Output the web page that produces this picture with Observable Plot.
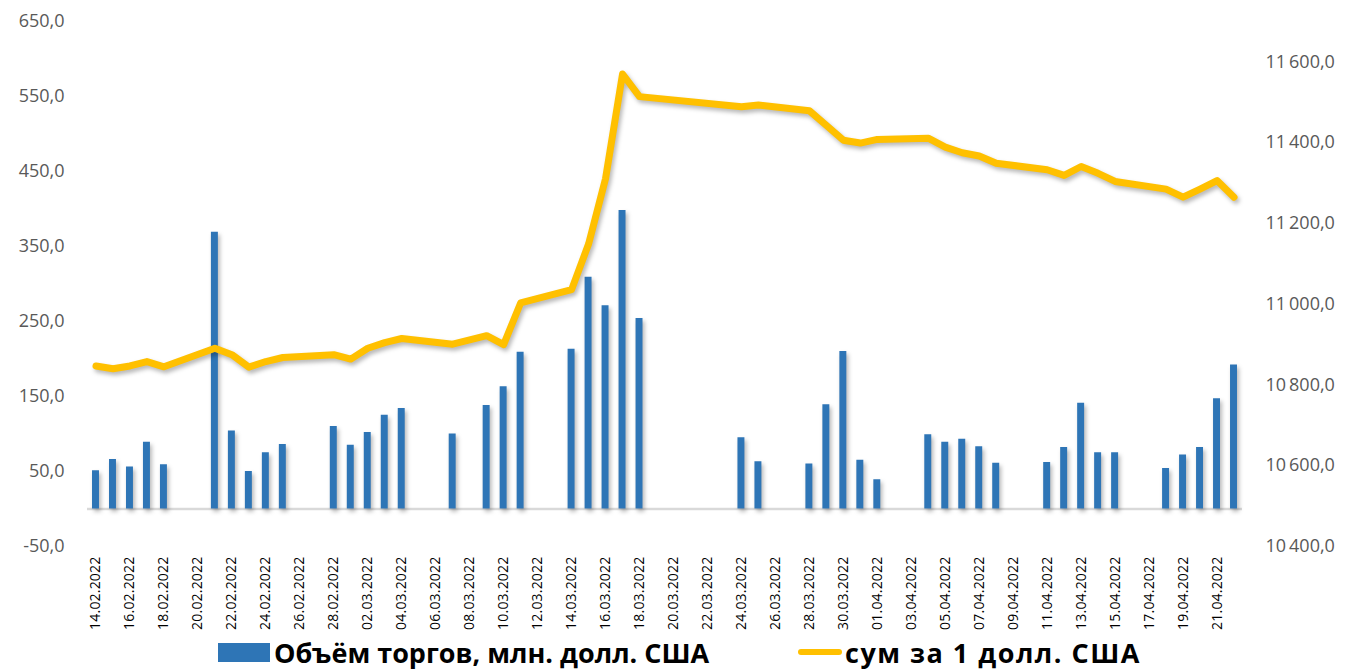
<!DOCTYPE html>
<html>
<head>
<meta charset="utf-8">
<script src="https://cdn.jsdelivr.net/npm/d3@7"></script>
<script src="https://cdn.jsdelivr.net/npm/@observablehq/plot@0.6"></script>
<style>
  html, body { margin: 0; padding: 0; background: #fff; overflow: hidden; }
  #wrap { width: 1347px; height: 669px; position: relative; }
  .shadow { filter: drop-shadow(2px 3px 2px rgba(0,0,0,0.28)); }
  g[aria-label="x-axis tick label"] text { letter-spacing: 0.2px; }
  #legend { position: relative; width: 1347px; height: 34px; font-family: "Open Sans", sans-serif; font-weight: 700; font-size: 27px; color: #000; }
  .item { position: absolute; top: 0; height: 34px; display: flex; align-items: center; white-space: nowrap; }
  .sw-bar { width: 52px; height: 19px; background: #2E75B6; margin-right: 4px; }
  .sw-line { width: 44px; height: 6px; background: #FFC000; border-radius: 3px; margin-right: 3px; }
</style>
</head>
<body>
<div id="wrap"></div>
<script>
const dates = [
  "14.02.2022","15.02.2022","16.02.2022","17.02.2022","18.02.2022","19.02.2022","20.02.2022",
  "21.02.2022","22.02.2022","23.02.2022","24.02.2022","25.02.2022","26.02.2022","27.02.2022",
  "28.02.2022","01.03.2022","02.03.2022","03.03.2022","04.03.2022","05.03.2022","06.03.2022",
  "07.03.2022","08.03.2022","09.03.2022","10.03.2022","11.03.2022","12.03.2022","13.03.2022",
  "14.03.2022","15.03.2022","16.03.2022","17.03.2022","18.03.2022","19.03.2022","20.03.2022",
  "21.03.2022","22.03.2022","23.03.2022","24.03.2022","25.03.2022","26.03.2022","27.03.2022",
  "28.03.2022","29.03.2022","30.03.2022","31.03.2022","01.04.2022","02.04.2022","03.04.2022",
  "04.04.2022","05.04.2022","06.04.2022","07.04.2022","08.04.2022","09.04.2022","10.04.2022",
  "11.04.2022","12.04.2022","13.04.2022","14.04.2022","15.04.2022","16.04.2022","17.04.2022",
  "18.04.2022","19.04.2022","20.04.2022","21.04.2022","22.04.2022"
];
// Trading volume, mln USD (null = no trading)
const volume = [
  51, 66, 56, 89, 59, null, null,
  369, 104, 50, 75, 86, null, null,
  110, 85, 102, 125, 134, null, null,
  100, null, 138, 163, 209, null, null,
  213, 309, 271, 398, 254, null, null,
  null, null, null, 95, 63, null, null,
  60, 139, 210, 65, 39, null, null,
  99, 89, 93, 83, 61, null, null,
  62, 82, 141, 75, 75, null, null,
  54, 72, 82, 147, 192
];
// UZS per 1 USD
const rate = [
  10847, 10840, 10847, 10858, 10845, null, null,
  10891, 10875, 10844, 10858, 10868, null, null,
  10875, 10864, 10891, 10905, 10915, null, null,
  10901, null, 10922, 10900, 11003, null, null,
  11036, 11149, 11311, 11570, 11514, null, null,
  null, null, null, 11489, 11493, null, null,
  11479, 11443, 11406, 11399, 11408, null, null,
  11411, 11389, 11375, 11367, 11349, null, null,
  11333, 11319, 11341, 11324, 11304, null, null,
  11285, 11265, 11285, 11306, 11265
];
const xTickLabels = [
  "14.02.2022","16.02.2022","18.02.2022","20.02.2022","22.02.2022","24.02.2022","26.02.2022",
  "28.02.2022","02.03.2022","04.03.2022","06.03.2022","08.03.2022","10.03.2022","12.03.2022",
  "14.03.2022","16.03.2022","18.03.2022","20.03.2022","22.03.2022","24.03.2022","26.03.2022",
  "28.03.2022","30.03.2022","01.04.2022","03.04.2022","05.04.2022","07.04.2022","09.04.2022",
  "11.04.2022","13.04.2022","15.04.2022","17.04.2022","19.04.2022","21.04.2022"
];
const leftTicks = [-50, 50, 150, 250, 350, 450, 550, 650];
const rightTicks = [10400, 10600, 10800, 11000, 11200, 11400, 11600];
const leftDomain = [-50, 650];
const rightDomain = [10400, 11700];

const toLeft = v => leftDomain[0] + (v - rightDomain[0]) * (leftDomain[1] - leftDomain[0]) / (rightDomain[1] - rightDomain[0]);
const fromLeft = v => rightDomain[0] + (v - leftDomain[0]) * (rightDomain[1] - rightDomain[0]) / (leftDomain[1] - leftDomain[0]);

const loc = d3.formatLocale({decimal: ",", thousands: "\u2009", grouping: [3], currency: ["", ""], minus: "-"});
const fmtL = loc.format(".1f");
const fmtR = loc.format(",.1f");

const bars = dates.map((d, i) => ({date: d, volume: volume[i]})).filter(d => d.volume != null);
const line = dates.map((d, i) => ({date: d, rate: rate[i]})).filter(d => d.rate != null);

const tickFont = "Open Sans, sans-serif";

const chart = Plot.plot({
  width: 1347,
  height: 635,
  marginLeft: 87,
  marginRight: 105,
  marginTop: 21,
  marginBottom: 89,
  style: {fontFamily: tickFont, background: "#fff", overflow: "visible"},
  x: {type: "band", domain: dates, paddingInner: 0.59, paddingOuter: 0.295, align: 0.5},
  y: {domain: leftDomain},
  marks: [
    Plot.ruleY([0], {stroke: "#d9d9d9", strokeWidth: 2.5}),
    Plot.barY(bars, {x: "date", y: "volume", fill: "#2E75B6", className: "shadow"}),
    Plot.line(line, {x: "date", y: d => toLeft(d.rate), stroke: "#FFC000", strokeWidth: 7,
      strokeLinejoin: "round", strokeLinecap: "round", className: "shadow"}),
    Plot.axisY({anchor: "left", ticks: leftTicks, tickFormat: fmtL, tickSize: 0, tickPadding: 23,
      fontSize: 18, fill: "#595959", label: null}),
    Plot.axisY({anchor: "right", ticks: rightTicks.map(toLeft), tickFormat: d => fmtR(Math.round(fromLeft(d))),
      tickSize: 0, tickPadding: 23, fontSize: 18, fill: "#595959", label: null}),
    Plot.axisX({anchor: "bottom", ticks: xTickLabels, tickRotate: -90, tickSize: 0, tickPadding: 10,
      fontSize: 14, fill: "#000", label: null})
  ]
});

const wrap = document.getElementById("wrap");
wrap.appendChild(chart);
const legend = document.createElement("div");
legend.id = "legend";
legend.innerHTML =
  '<div class="item" style="left:218px"><div class="sw-bar"></div><span>Объём торгов, млн. долл. США</span></div>' +
  '<div class="item" style="left:798px"><div class="sw-line"></div><span style="letter-spacing:1.5px">сум за 1 долл. США</span></div>';
wrap.appendChild(legend);
</script>
</body>
</html>
